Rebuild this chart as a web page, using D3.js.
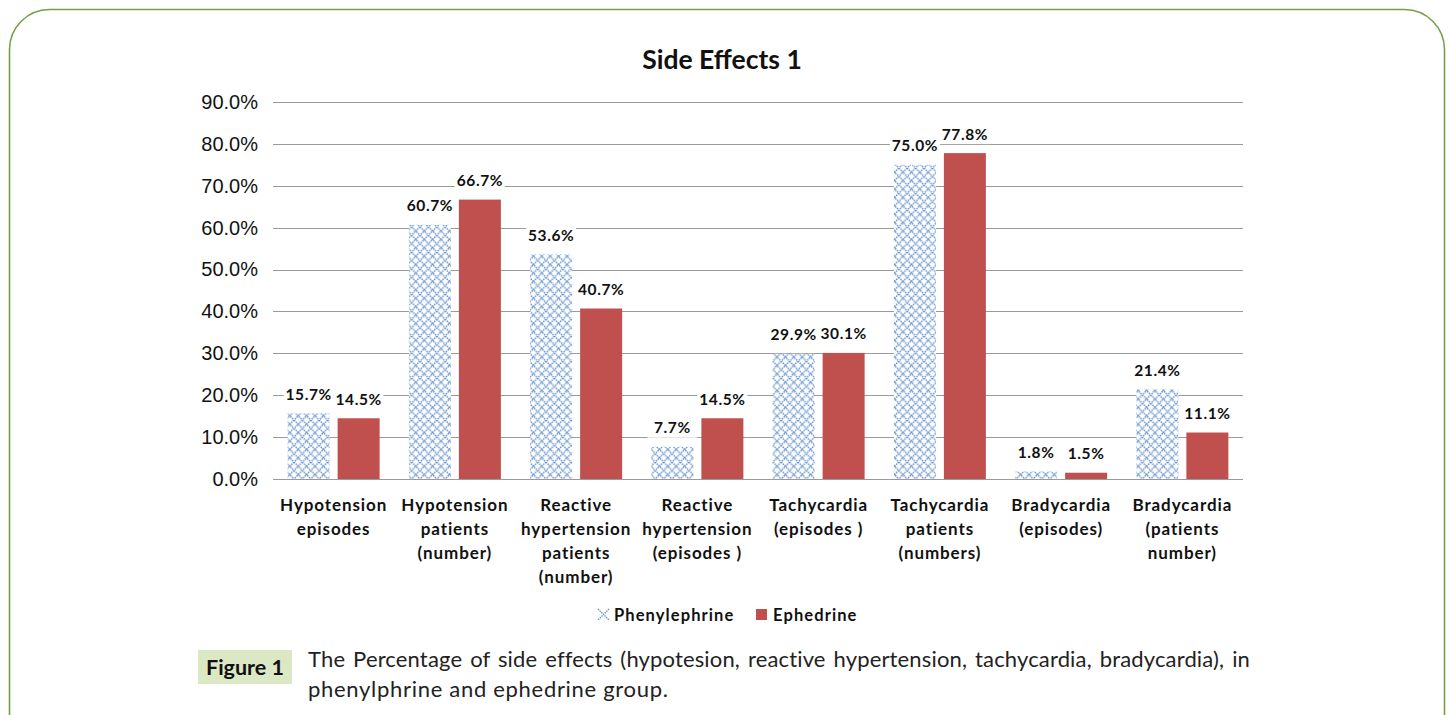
<!DOCTYPE html>
<html>
<head>
<meta charset="utf-8">
<script src="https://cdn.jsdelivr.net/npm/d3@7"></script>
<style>
  body { margin: 0; background: #fff; }
  svg { display: block; }
</style>
</head>
<body>
<script>
var width = 1451,
    height = 715

// data
var categories = [
  "Hypotension\nepisodes",
  "Hypotension\npatients\n(number)",
  "Reactive\nhypertension\npatients\n(number)",
  "Reactive\nhypertension\n(episodes )",
  "Tachycardia\n(episodes )",
  "Tachycardia\npatients\n(numbers)",
  "Bradycardia\n(episodes)",
  "Bradycardia\n(patients\nnumber)"
]
var seriesNames = ["Phenylephrine", "Ephedrine"]
var phenylephrine = [15.7, 60.7, 53.6, 7.7, 29.9, 75.0, 1.8, 21.4]
var ephedrine = [14.5, 66.7, 40.7, 14.5, 30.1, 77.8, 1.5, 11.1]
var yTicks = [0, 10, 20, 30, 40, 50, 60, 70, 80, 90]
var captionLines = [
  "The Percentage of side effects (hypotesion, reactive hypertension, tachycardia, bradycardia), in",
  "phenylphrine and ephedrine group."
]

var margin = {left: 273, right: 1243, top: 102, bottom: 479}

var svg = d3.select("body").append("svg")
    .attr("width", width)
    .attr("height", height)

// hatch pattern for phenylephrine
var defs = svg.append("defs")
var pat = defs.append("pattern")
    .attr("id", "hatch")
    .attr("patternUnits", "userSpaceOnUse")
    .attr("width", 8.4)
    .attr("height", 8.4)
pat.append("rect").attr("width", 8.4).attr("height", 8.4).attr("fill", "#fff")
pat.append("path")
    .attr("d", "M0,0L8.4,8.4M8.4,0L0,8.4")
    .attr("stroke", "#6592cc")
    .attr("stroke-width", 1.4)
    .attr("stroke-dasharray", "1.5,0.8")

// frame
svg.append("rect")
    .attr("x", 9.5).attr("y", 9.5)
    .attr("width", 1435).attr("height", 760)
    .attr("rx", 40).attr("ry", 40)
    .attr("fill", "none")
    .attr("stroke", "#77a046")
    .attr("stroke-width", 1.6)

var x = d3.scaleBand()
    .domain(d3.range(categories.length))
    .range([margin.left, margin.right])

var y = d3.scaleLinear()
    .domain([0, 90])
    .range([margin.bottom, margin.top])

// gridlines
svg.append("g")
    .selectAll("line")
    .data(yTicks)
    .enter().append("line")
    .attr("x1", margin.left)
    .attr("x2", margin.right)
    .attr("y1", function(d) { return Math.round(y(d)) + 0.5 })
    .attr("y2", function(d) { return Math.round(y(d)) + 0.5 })
    .attr("stroke", "#9a9a9a")
    .attr("stroke-width", 1.2)

// y tick labels
var yAxis = d3.axisLeft(y)
    .tickValues(yTicks)
    .tickSize(0)
    .tickPadding(15)
    .tickFormat(function(d) { return d3.format(".1f")(d) + "%" })

svg.append("g")
    .attr("transform", "translate(" + margin.left + ",0)")
    .call(yAxis)
    .call(function(g) { g.select(".domain").remove() })
    .selectAll("text")
    .attr("font-family", "'Liberation Sans', Arial, sans-serif")
    .attr("font-size", 20)
    .attr("fill", "#111")

var barW = 42, gap = 8
var sub = d3.scaleOrdinal().domain([0, 1]).range([-gap / 2 - barW, gap / 2])

var rows = []
categories.forEach(function(c, i) {
  rows.push({i: i, s: 0, v: phenylephrine[i]})
  rows.push({i: i, s: 1, v: ephedrine[i]})
})

function barX(d) { return x(d.i) + x.bandwidth() / 2 + sub(d.s) }

svg.append("g")
    .selectAll("rect")
    .data(rows)
    .enter().append("rect")
    .attr("x", barX)
    .attr("y", function(d) { return y(d.v) })
    .attr("width", barW)
    .attr("height", function(d) { return y(0) - y(d.v) })
    .attr("fill", function(d) { return d.s == 0 ? "url(#hatch)" : "#c0504d" })

// data labels with white backing
var labels = svg.append("g")
    .selectAll("g")
    .data(rows)
    .enter().append("g")
    .attr("transform", function(d) {
      return "translate(" + (barX(d) + barW / 2) + "," + (y(d.v) - 19) + ")"
    })

labels.append("rect")
    .attr("x", -25).attr("y", -10)
    .attr("width", 50).attr("height", 20)
    .attr("fill", "#fff")

labels.append("text")
    .attr("text-anchor", "middle")
    .attr("dy", 5.5)
    .attr("font-family", "Lato, sans-serif")
    .attr("font-weight", "bold")
    .attr("font-size", 15.5)
    .attr("letter-spacing", 0.6)
    .attr("fill", "#111")
    .text(function(d) { return d3.format(".1f")(d.v) + "%" })

// category labels
var catText = svg.append("g")
    .selectAll("text")
    .data(categories)
    .enter().append("text")
    .attr("text-anchor", "middle")
    .attr("font-family", "Lato, sans-serif")
    .attr("font-weight", "bold")
    .attr("font-size", 17)
    .attr("letter-spacing", 0.9)
    .attr("fill", "#111")

catText.selectAll("tspan")
    .data(function(d, i) { return d.split("\n").map(function(t) { return {t: t, i: i} }) })
    .enter().append("tspan")
    .attr("x", function(d) { return x(d.i) + x.bandwidth() / 2 })
    .attr("y", function(d, k) { return 511 + k * 24 })
    .text(function(d) { return d.t })

// title
svg.append("text")
    .attr("x", 722)
    .attr("y", 69)
    .attr("text-anchor", "middle")
    .attr("font-family", "Lato, sans-serif")
    .attr("font-weight", "bold")
    .attr("font-size", 26.5)
    .attr("fill", "#111")
    .text("Side Effects 1")

// legend
var legend = svg.append("g").attr("transform", "translate(598,609)")
legend.append("path")
    .attr("d", "M0,0L11,11M11,0L0,11")
    .attr("stroke", "#6592cc")
    .attr("stroke-width", 1.3)
    .attr("stroke-dasharray", "1.5,0.8")
legend.append("text")
    .attr("x", 16).attr("y", 11.5)
    .attr("font-family", "Lato, sans-serif")
    .attr("font-weight", "bold")
    .attr("font-size", 16.5)
    .attr("letter-spacing", 1.1)
    .attr("fill", "#111")
    .text(seriesNames[0])
legend.append("rect")
    .attr("x", 158).attr("y", 0)
    .attr("width", 11).attr("height", 11)
    .attr("fill", "#c0504d")
legend.append("text")
    .attr("x", 175).attr("y", 11.5)
    .attr("font-family", "Lato, sans-serif")
    .attr("font-weight", "bold")
    .attr("font-size", 16.5)
    .attr("letter-spacing", 1.1)
    .attr("fill", "#111")
    .text(seriesNames[1])

// caption
svg.append("rect")
    .attr("x", 198).attr("y", 650)
    .attr("width", 94).attr("height", 34)
    .attr("fill", "#dce8c4")
svg.append("text")
    .attr("x", 245).attr("y", 674.5)
    .attr("text-anchor", "middle")
    .attr("font-family", "Lato, sans-serif")
    .attr("font-weight", "bold")
    .attr("font-size", 21.5)
    .attr("fill", "#111")
    .text("Figure 1")

var cap = svg.append("g")
    .selectAll("text")
    .data(captionLines)
    .enter().append("text")
    .attr("x", 308)
    .attr("y", function(d, i) { return 667 + i * 30 })
    .attr("font-family", "Lato, sans-serif")
    .attr("font-size", 22)
    .attr("letter-spacing", function(d, i) { return i == 0 ? 0.15 : 0.7 })
    .attr("fill", "#222")
    .text(function(d) { return d })

// justify first caption line
cap.filter(function(d, i) { return i == 0 })
    .each(function(d) {
      var natural = this.getComputedTextLength()
      var spaces = d.split(" ").length - 1
      d3.select(this).attr("word-spacing", Math.max(0, (1250 - 308 - natural) / spaces))
    })
</script>
</body>
</html>
